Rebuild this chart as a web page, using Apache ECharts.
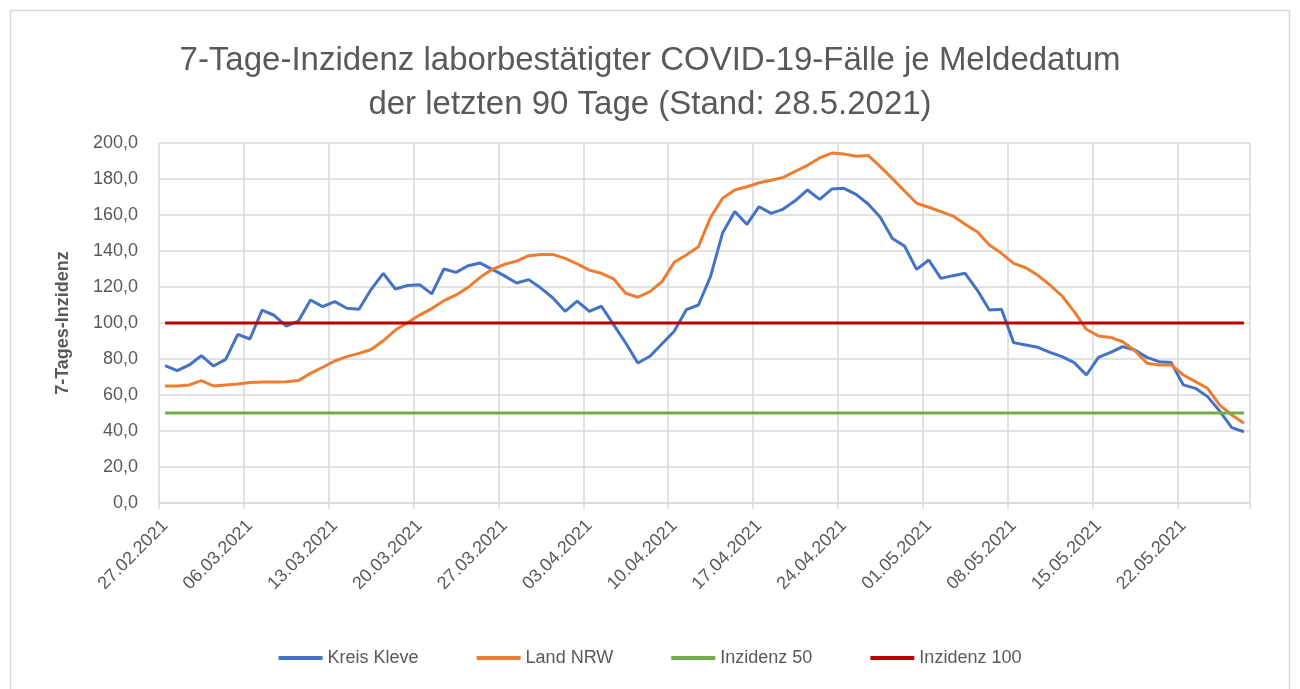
<!DOCTYPE html>
<html>
<head>
<meta charset="utf-8">
<title>7-Tage-Inzidenz Kreis Kleve</title>
<script src="https://cdn.jsdelivr.net/npm/echarts@6/dist/echarts.min.js"></script>
<style>
    html, body { margin: 0; padding: 0; background: #fff; }
    #chartDiv { width: 1300px; height: 689px; }
</style>
</head>
<body>
<div id="chartDiv"></div>
<script>
    // Meldedaten: 90 Tage ab 27.02.2021
    var startDate = new Date(2021, 1, 27);
    var dayCount = 90;
    var categories = [];
    for (var d = 0; d < dayCount; d++) {
        var dt = new Date(startDate.getFullYear(), startDate.getMonth(), startDate.getDate() + d);
        var dd = ('0' + dt.getDate()).slice(-2);
        var mm = ('0' + (dt.getMonth() + 1)).slice(-2);
        categories.push(dd + '.' + mm + '.' + dt.getFullYear());
    }

    var kreisKleve = [
        76.3, 73.5, 76.7, 81.9, 76.1, 79.8, 93.7, 91.1, 107.1, 104.3,
        98.3, 101.1, 112.8, 109.1, 111.9, 108.2, 107.6, 118.7, 127.6, 118.9,
        120.8, 121.3, 116.2, 130.0, 128.1, 131.8, 133.3, 129.8, 126.2, 122.2,
        124.1, 119.4, 113.9, 106.5, 112.1, 106.5, 109.3, 99.1, 88.9, 77.8,
        81.5, 88.5, 95.4, 107.4, 110.0, 125.9, 150.2, 161.9, 154.8, 164.6,
        160.9, 163.3, 168.0, 173.9, 168.7, 174.4, 174.8, 171.5, 166.1, 158.7,
        147.0, 142.8, 129.8, 135.0, 124.8, 126.3, 127.6, 118.3, 107.2, 107.6,
        89.1, 87.8, 86.5, 83.7, 81.3, 78.0, 71.1, 80.9, 83.7, 86.9,
        85.0, 80.9, 78.5, 78.0, 65.6, 63.7, 59.1, 51.1, 41.9, 39.6
    ];
    var landNRW = [
        65.0, 65.0, 65.6, 68.0, 65.0, 65.6, 66.1, 66.9, 67.2, 67.2,
        67.4, 68.0, 72.0, 75.4, 78.9, 81.3, 83.1, 85.3, 90.1, 96.1,
        100.1, 104.4, 108.0, 112.4, 115.6, 119.8, 125.4, 129.8, 132.6, 134.4,
        137.4, 138.1, 138.1, 135.9, 132.8, 129.4, 127.6, 124.5, 116.5, 114.3,
        117.4, 123.0, 133.7, 137.8, 142.4, 158.7, 169.3, 173.9, 175.7, 177.9,
        179.3, 180.9, 184.3, 187.6, 191.7, 194.4, 193.9, 192.6, 193.1, 186.9,
        180.2, 173.3, 166.5, 164.3, 161.9, 159.4, 154.8, 150.7, 143.3, 138.7,
        133.1, 130.7, 126.5, 121.1, 115.0, 106.3, 96.5, 92.8, 92.0, 89.6,
        84.6, 77.6, 76.7, 76.7, 71.1, 67.4, 63.7, 54.4, 48.9, 44.3
    ];
    var inzidenz50 = 50;
    var inzidenz100 = 100;

    var textColor = '#595959';
    var gridColor = '#d9d9d9';
    var fontFamily = 'Liberation Sans, Arial, sans-serif';

    function constLine(v) {
        return categories.map(function () { return v; });
    }

    function lineSeries(name, data, color) {
        return {
            name: name,
            type: 'line',
            data: data,
            symbol: 'none',
            smooth: false,
            lineStyle: { color: color, width: 3 },
            itemStyle: { color: color }
        };
    }

    var chart = echarts.init(document.getElementById('chartDiv'));
    chart.setOption({
        backgroundColor: '#fff',
        animation: false,
        textStyle: { fontFamily: fontFamily },
        graphic: [{
            type: 'rect',
            shape: { x: 10.5, y: 10.5, width: 1279, height: 690 },
            style: { fill: 'none', stroke: gridColor, lineWidth: 1.5 }
        }],
        title: {
            text: '7-Tage-Inzidenz laborbestätigter COVID-19-Fälle je Meldedatum\nder letzten 90 Tage (Stand: 28.5.2021)',
            left: 'center',
            top: 34,
            textStyle: {
                color: textColor,
                fontSize: 33,
                fontWeight: 'normal',
                lineHeight: 44,
                fontFamily: fontFamily
            }
        },
        legend: {
            bottom: 17,
            left: 'center',
            icon: 'rect',
            itemWidth: 44,
            itemHeight: 4,
            itemGap: 58,
            textStyle: { color: textColor, fontSize: 18, fontFamily: fontFamily },
            data: ['Kreis Kleve', 'Land NRW', 'Inzidenz 50', 'Inzidenz 100']
        },
        grid: { left: 159, right: 50, top: 143, bottom: 186 },
        xAxis: {
            type: 'category',
            data: categories,
            boundaryGap: true,
            axisLine: { lineStyle: { color: gridColor, width: 1.5 } },
            axisTick: { show: true, interval: 6, length: 6, lineStyle: { color: gridColor, width: 1.5 } },
            axisLabel: {
                interval: 6,
                rotate: 45,
                color: textColor,
                fontSize: 18,
                margin: 20,
                fontFamily: fontFamily
            },
            splitLine: { show: true, interval: 6, lineStyle: { color: gridColor, width: 1.5 } }
        },
        yAxis: {
            type: 'value',
            min: 0,
            max: 200,
            interval: 20,
            name: '7-Tages-Inzidenz',
            nameLocation: 'middle',
            nameGap: 87,
            nameTextStyle: { color: textColor, fontSize: 18, fontWeight: 'bold', fontFamily: fontFamily },
            axisLine: { show: false },
            axisTick: { show: false },
            axisLabel: {
                color: textColor,
                fontSize: 18,
                margin: 21,
                fontFamily: fontFamily,
                formatter: function (v) { return v.toFixed(1).replace('.', ','); }
            },
            splitLine: { lineStyle: { color: gridColor, width: 1.5 } }
        },
        series: [
            lineSeries('Kreis Kleve', kreisKleve, '#4472c4'),
            lineSeries('Land NRW', landNRW, '#ed7d31'),
            lineSeries('Inzidenz 50', constLine(inzidenz50), '#70ad47'),
            lineSeries('Inzidenz 100', constLine(inzidenz100), '#c00000')
        ]
    });
</script>
</body>
</html>
